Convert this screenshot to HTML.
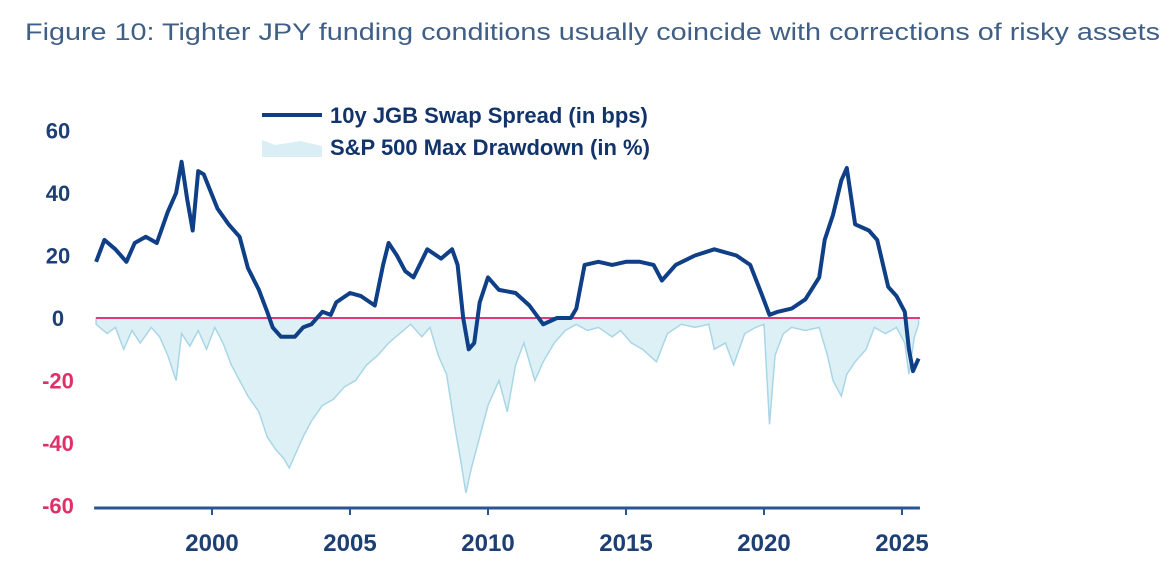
<!DOCTYPE html>
<html><head><meta charset="utf-8">
<style>
html,body{margin:0;padding:0;background:#fff;}
svg{display:block;font-family:"Liberation Sans",sans-serif;}
</style></head>
<body>
<svg id="chart" width="1170" height="573" viewBox="0 0 1170 573">
<text x="25" y="40" font-size="24" fill="#3f5f86" textLength="1135" lengthAdjust="spacingAndGlyphs">Figure 10: Tighter JPY funding conditions usually coincide with corrections of risky assets</text>
<g id="plot"></g>
<g>
<line x1="262" y1="115" x2="322" y2="115" stroke="#0f3f86" stroke-width="4"/>
<text x="330" y="123" font-size="22" font-weight="bold" fill="#12346a">10y JGB Swap Spread (in bps)</text>
<path d="M262,140 L275,145 L288,143 L300,141 L322,146 L322,157 L262,157 Z" fill="#d9eef5"/>
<text x="330" y="155" font-size="22" font-weight="bold" fill="#12346a">S&amp;P 500 Max Drawdown (in %)</text>
</g>
</svg>
<script>
const yTicks = [60, 40, 20, 0, -20, -40, -60];
const xTicks = [2000, 2005, 2010, 2015, 2020, 2025];
const swapYears = [1995.8,1996.1,1996.5,1996.9,1997.2,1997.6,1998.0,1998.4,1998.7,1998.9,1999.1,1999.3,1999.5,1999.7,2000.2,2000.6,2001.0,2001.3,2001.7,2002.0,2002.2,2002.5,2003.0,2003.3,2003.6,2004.0,2004.3,2004.5,2005.0,2005.4,2005.9,2006.2,2006.4,2006.7,2007.0,2007.3,2007.8,2008.3,2008.7,2008.9,2009.1,2009.3,2009.5,2009.7,2010.0,2010.4,2011.0,2011.5,2012.0,2012.5,2013.0,2013.2,2013.5,2014.0,2014.5,2015.0,2015.5,2016.0,2016.3,2016.8,2017.5,2018.2,2019.0,2019.5,2019.9,2020.2,2020.5,2021.0,2021.5,2022.0,2022.2,2022.5,2022.8,2023.0,2023.3,2023.8,2024.1,2024.5,2024.8,2025.1,2025.25,2025.4,2025.6];
const swapValues = [18,25,22,18,24,26,24,34,40,50,38,28,47,46,35,30,26,16,9,2,-3,-6,-6,-3,-2,2,1,5,8,7,4,17,24,20,15,13,22,19,22,17,0,-10,-8,5,13,9,8,4,-2,0,0,3,17,18,17,18,18,17,12,17,20,22,20,17,8,1,2,3,6,13,25,33,44,48,30,28,25,10,7,2,-10,-17,-13];
const ddYears = [1995.8,1996.2,1996.5,1996.8,1997.1,1997.4,1997.8,1998.1,1998.4,1998.7,1998.9,1999.2,1999.5,1999.8,2000.1,2000.4,2000.7,2001.0,2001.3,2001.7,2002.0,2002.3,2002.6,2002.8,2003.0,2003.3,2003.6,2004.0,2004.4,2004.8,2005.2,2005.6,2006.0,2006.4,2006.8,2007.2,2007.6,2007.9,2008.2,2008.5,2008.8,2009.0,2009.2,2009.4,2009.7,2010.0,2010.4,2010.7,2011.0,2011.3,2011.7,2012.0,2012.4,2012.8,2013.2,2013.6,2014.0,2014.5,2014.8,2015.2,2015.6,2016.1,2016.5,2017.0,2017.5,2018.0,2018.2,2018.6,2018.9,2019.3,2019.7,2020.0,2020.2,2020.4,2020.7,2021.0,2021.5,2022.0,2022.3,2022.5,2022.8,2023.0,2023.3,2023.7,2024.0,2024.4,2024.8,2025.1,2025.25,2025.45,2025.6];
const ddValues = [-2,-5,-3,-10,-4,-8,-3,-6,-12,-20,-5,-9,-4,-10,-3,-8,-15,-20,-25,-30,-38,-42,-45,-48,-44,-38,-33,-28,-26,-22,-20,-15,-12,-8,-5,-2,-6,-3,-12,-18,-35,-45,-56,-48,-38,-28,-20,-30,-15,-8,-20,-14,-8,-4,-2,-4,-3,-6,-4,-8,-10,-14,-5,-2,-3,-2,-10,-8,-15,-5,-3,-2,-34,-12,-5,-3,-4,-3,-12,-20,-25,-18,-14,-10,-3,-5,-3,-8,-18,-6,-2];

const NS = 'http://www.w3.org/2000/svg';
const plot = document.getElementById('plot');
const X0 = 2000, PX0 = 212, PXY = 27.6;
const xs = yr => PX0 + (yr - X0) * PXY;
const ys = v => 318 - v * 3.125;
const left = xs(1995.8), right = xs(2025.65);
function mk(tag, attrs){const e=document.createElementNS(NS,tag);for(const k in attrs)e.setAttribute(k,attrs[k]);plot.appendChild(e);return e;}

let d = 'M' + xs(ddYears[0]) + ',' + ys(0);
ddYears.forEach((yr,i)=>{ d += ' L' + xs(yr).toFixed(1) + ',' + ys(ddValues[i]).toFixed(1); });
d += ' L' + xs(ddYears[ddYears.length-1]) + ',' + ys(0) + ' Z';
const area = mk('path',{d:d, fill:'#ddf0f6', stroke:'#a9d6e6', 'stroke-width':1.5});



const zl = mk('line',{x1:left, x2:right, y1:ys(0), y2:ys(0), stroke:'#e03a78', 'stroke-width':2});



let p = '';
swapYears.forEach((yr,i)=>{ p += (i?' L':'M') + xs(yr).toFixed(1) + ',' + ys(swapValues[i]).toFixed(1); });
const sl = mk('path',{d:p, fill:'none', stroke:'#0f3f86', 'stroke-width':4, 'stroke-linejoin':'round'});



const ax = mk('line',{x1:left-2, x2:right, y1:508, y2:508, stroke:'#2a5592', 'stroke-width':3});


xTicks.forEach(t=>{
  const tk = mk('line',{x1:xs(t), x2:xs(t), y1:508, y2:515, stroke:'#2a5592', 'stroke-width':2});
  
  
  const tx = mk('text',{x:xs(t), y:551, 'text-anchor':'middle', 'font-size':24, 'font-weight':'bold', fill:'#1d3f73'});
  tx.textContent = t;
  
  
});
yTicks.forEach(t=>{
  const tx = mk('text',{x:58, y:ys(t)+8, 'text-anchor':'middle', 'font-size':22, 'font-weight':'bold', fill: t<0 ? '#e0306a' : '#1d3f73'});
  tx.textContent = t;
  
  
});
</script>
</body></html>
